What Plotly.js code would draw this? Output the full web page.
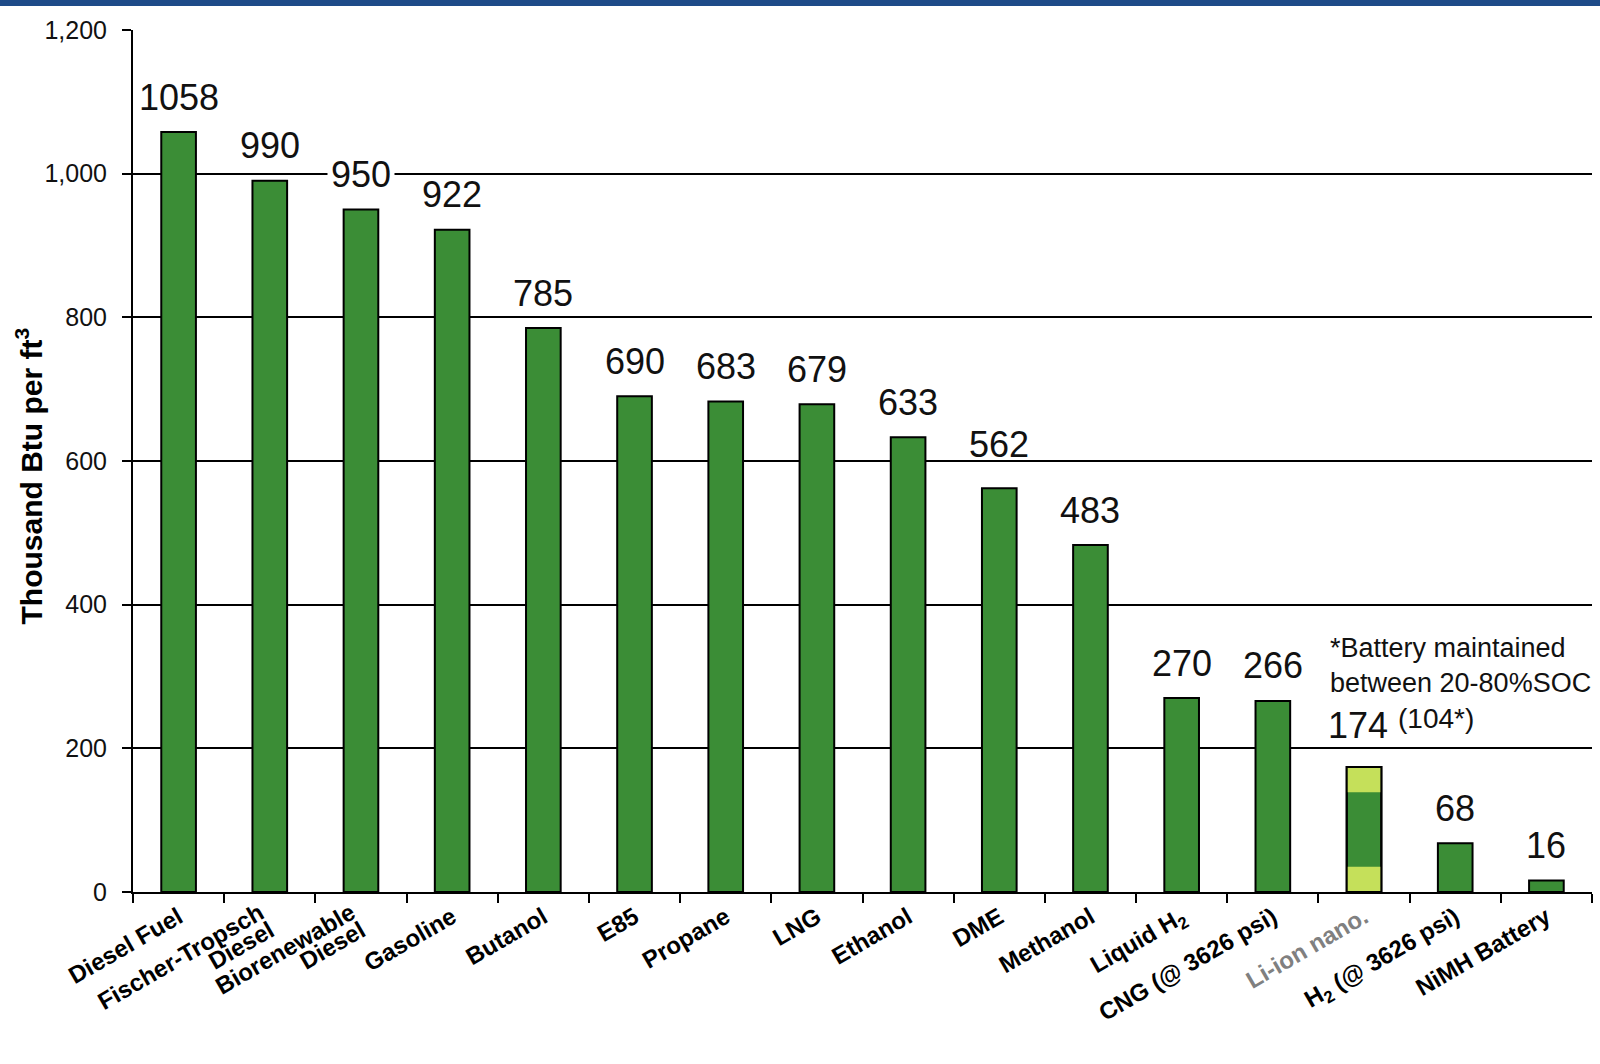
<!DOCTYPE html>
<html>
<head>
<meta charset="utf-8">
<script src="https://cdn.plot.ly/plotly-3.0.1.min.js"></script>
<style>
  html, body { margin: 0; padding: 0; background: #fff; }
  #strip { width: 1600px; height: 6px; background: #1e4b88; }
  #chart { width: 1600px; height: 1058px; }
</style>
</head>
<body>
<div id="strip"></div>
<div id="chart"></div>
<script>
// ---- data ----
const categories = [
  "Diesel Fuel", "Fischer-Tropsch<br>Diesel", "Biorenewable<br>Diesel", "Gasoline",
  "Butanol", "E85", "Propane", "LNG", "Ethanol", "DME", "Methanol",
  "Liquid H<sub>2</sub>", "CNG (@ 3626 psi)", "Li-ion nano.", "H<sub>2</sub> (@ 3626 psi)", "NiMH Battery"
];
const tickLabels = [
  "Diesel Fuel", "Fischer-Tropsch<br>Diesel", "Biorenewable<br>Diesel", "Gasoline",
  "Butanol", "E85", "Propane", "LNG", "Ethanol", "DME", "Methanol",
  "Liquid H<sub>2</sub>", "CNG (@ 3626 psi)", "<span style='color:#808080'>Li-ion nano.</span>",
  "H<sub>2</sub> (@ 3626 psi)", "NiMH Battery"
];
const energyDensity = [1058, 990, 950, 922, 785, 690, 683, 679, 633, 562, 483, 270, 266, 174, 68, 16];
const liIonCategory = "Li-ion nano.";
const liIonTotal = 174;
const liIonSOC = 104;   // usable when maintained between 20-80% SOC
const yTickVals = [0, 200, 400, 600, 800, 1000, 1200];

// ---- styling ----
const FONT = "Liberation Sans, Arial, Helvetica, sans-serif";
const DARK = "#3b8d36";
const LIGHT = "#c5e05a";
const PX_PER_UNIT = 862 / 1200;   // plot height / y range (for label/gridline clearance)

const liIdx = categories.indexOf(liIonCategory);
const liMargin = (liIonTotal - liIonSOC) / 2;

// main bars (dark green, black outline)
const mainTrace = {
  type: "bar",
  x: categories,
  y: energyDensity,
  width: 0.38,
  marker: { color: DARK, line: { color: "#000", width: 2 } },
  hoverinfo: "x+y",
  showlegend: false
};
// light green bottom & top portions of the Li-ion bar
const liBottom = {
  type: "bar", x: [liIonCategory], y: [liMargin], base: [0], width: 0.38,
  marker: { color: LIGHT, line: { width: 0 } }, showlegend: false, hoverinfo: "skip"
};
const liTop = {
  type: "bar", x: [liIonCategory], y: [liMargin], base: [liMargin + liIonSOC], width: 0.38,
  marker: { color: LIGHT, line: { width: 0 } }, showlegend: false, hoverinfo: "skip"
};
const liOutline = {
  type: "bar", x: [liIonCategory], y: [liIonTotal], width: 0.38,
  marker: { color: "rgba(0,0,0,0)", line: { color: "#000", width: 2 } },
  showlegend: false, hoverinfo: "skip"
};

// value labels
const annotations = categories.map((c, i) => {
  let shift = 35;
  if (i === liIdx) shift = 42;
  else if (energyDensity[i] === 562) shift = 44;
  // does a gridline run through the label text?
  const centerVal = energyDensity[i] + shift / PX_PER_UNIT;
  const hitsGrid = yTickVals.some(t => Math.abs(t - centerVal) * PX_PER_UNIT < 12);
  return {
    x: c, y: energyDensity[i], xref: "x", yref: "y",
    text: String(energyDensity[i]),
    showarrow: false, yanchor: "middle", xanchor: i === liIdx ? "right" : "center",
    xshift: i === liIdx ? 28 : 0,
    yshift: shift,
    font: { family: FONT, size: 36, color: "#111" },
    bgcolor: hitsGrid ? "#fff" : "rgba(0,0,0,0)", borderpad: 3
  };
});
annotations.push({
  x: liIonCategory, y: liIonTotal, xref: "x", yref: "y",
  text: "(" + liIonSOC + "*)",
  showarrow: false, xanchor: "left", yanchor: "middle", xshift: 32, yshift: 49,
  font: { family: FONT, size: 28, color: "#111" }
});
annotations.push({
  x: liIonCategory, y: 316, xref: "x", yref: "y",
  text: "*Battery maintained<br>between 20-80%SOC",
  align: "left", showarrow: false, xanchor: "left", yanchor: "middle", xshift: -36,
  font: { family: FONT, size: 27, color: "#111" }
});
// y-axis title
annotations.push({
  xref: "paper", yref: "paper", x: 0, y: 0.482,
  xanchor: "center", yanchor: "middle", xshift: -104,
  text: "Thousand Btu per ft<sup>3</sup>", textangle: -90, showarrow: false,
  font: { family: FONT, size: 30, color: "#000", weight: "bold" }
});

const layout = {
  width: 1600, height: 1058,
  margin: { l: 133, r: 8, t: 24, b: 172 },
  paper_bgcolor: "#fff", plot_bgcolor: "#fff",
  barmode: "overlay",
  font: { family: FONT, color: "#000" },
  xaxis: {
    type: "category",
    categoryorder: "array", categoryarray: categories,
    tickvals: categories, ticktext: tickLabels,
    range: [-0.5, categories.length - 0.5],
    tickson: "boundaries",
    ticks: "outside", ticklen: 9, tickwidth: 2, tickcolor: "#000",
    showline: true, linecolor: "#000", linewidth: 2,
    tickangle: -30,
    tickfont: { family: FONT, size: 24, color: "#000", weight: "bold" },
    showgrid: false, zeroline: false
  },
  yaxis: {
    range: [0, 1200],
    tickvals: yTickVals,
    tickformat: ",d",
    ticks: "outside", ticklen: 9, tickwidth: 2, tickcolor: "#000",
    ticklabelstandoff: 10,
    showline: true, linecolor: "#000", linewidth: 2,
    showgrid: true, gridcolor: "#000", gridwidth: 2,
    zeroline: false,
    tickfont: { family: FONT, size: 25, color: "#111" }
  },
  annotations: annotations
};

Plotly.newPlot("chart", [mainTrace, liBottom, liTop, liOutline], layout, { displayModeBar: false, staticPlot: true })
  .then(gd => {
    // tighter line spacing for the two-line category labels (as in the original chart)
    gd.querySelectorAll(".xtick text").forEach(t => {
      const lines = t.querySelectorAll("tspan.line");
      if (lines.length < 2) return;
      lines.forEach((ln, k) => {
        if (k === 0) return;
        const dy = parseFloat(ln.getAttribute("dy"));
        if (!isNaN(dy)) ln.setAttribute("dy", (dy * 0.85 / 1.3) + "em");
      });
      const tr = t.getAttribute("transform") || "";
      t.setAttribute("transform", "translate(-10,-4) " + tr);
    });
  });
</script>
</body>
</html>
